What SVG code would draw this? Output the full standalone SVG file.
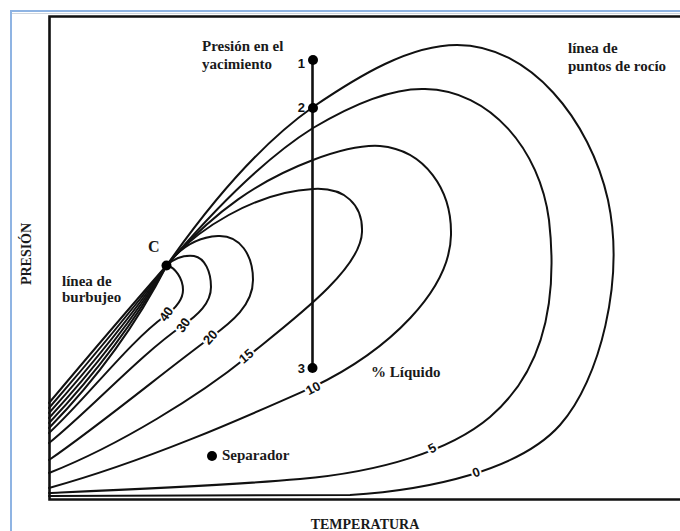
<svg xmlns="http://www.w3.org/2000/svg" width="680" height="531" viewBox="0 0 680 531">
<style>
.curve{fill:none;stroke:#111;stroke-width:2;stroke-linecap:round;stroke-linejoin:round}
.lbl{font-family:"Liberation Serif","Times New Roman",serif;font-weight:bold;font-size:15px;fill:#1a1a1a}
.num{font-family:"Liberation Sans",Arial,sans-serif;font-weight:bold;font-size:13px;fill:#111}
.cl{font-family:"Liberation Sans",Arial,sans-serif;font-weight:bold;font-size:13px;fill:#111;stroke:#fff;stroke-width:4;paint-order:stroke;text-anchor:middle}
.dot{fill:#000}
</style>
<rect x="0" y="0" width="680" height="531" fill="#fff"/>
<g id="frame">
<path d="M690,11 H11 V540" fill="none" stroke="#8fb4e3" stroke-width="2"/>
<path d="M690,13.5 H12" fill="none" stroke="#cfd6de" stroke-width="1"/>
<path d="M690,16.5 H49.5 V499.5 H690" fill="none" stroke="#111" stroke-width="2.6"/>
</g>
<g id="connectors">
<path class="curve" d="M167,265 Q112,328 49,403"/>
<path class="curve" d="M167,265 Q114,333 49,408"/>
<path class="curve" d="M167,265 Q116,338 49,413"/>
<path class="curve" d="M167,265 Q118,343 49,418"/>
<path class="curve" d="M167,265 Q120,348 49,423"/>
<path class="curve" d="M167,265 Q122,353 49,428"/>
<path class="curve" d="M167,265 C175,268 183,278 183,290 C183,300 176,308 165,316 C130,341 85,400 49,433"/>
<path class="curve" d="M167,265 C175,258 185,255 194,256 C205,258 211,272 211,287 C211,303 198,315 182,326 C140,355 90,410 49,443"/>
<path class="curve" d="M167,265 C180,248 198,237 218,236 C240,235 253,255 253,280 C253,305 232,322 210,338 C170,367 100,425 49,460"/>
<path class="curve" d="M167,265 C195,230 255,192 313,189 C345,187 363,205 362,232 C361,270 290,322 247,357 C200,395 120,445 49,473"/>
<path class="curve" d="M167,265 C215,210 260,180 313,160 C345,148 365,145 380,146 C425,150 452,190 451,235 C450,290 390,350 313,387 C250,415 150,460 49,488"/>
<path class="curve" d="M167,265 C212,212 262,160 313,128 C360,100 395,88 425,89 C490,90 540,150 549,220 C558,300 545,370 490,417 C450,451 380,472 300,479 C220,486 120,490 49,493"/>
<path class="curve" d="M167,265 C202,215 252,150 313,107 C360,75 410,45 457,45 C530,45 590,120 608,200 C625,280 600,380 560,425 C520,470 430,490 350,495 L49,496"/>
<path d="M312.5,60 V368" fill="none" stroke="#111" stroke-width="2.6"/>
</g>
<g id="curve-labels">
<text class="cl" transform="translate(166,314) rotate(-55)" dy="0.36em">40</text>
<text class="cl" transform="translate(183,325) rotate(-55)" dy="0.36em">30</text>
<text class="cl" transform="translate(210,337) rotate(-48)" dy="0.36em">20</text>
<text class="cl" transform="translate(246,356) rotate(-40)" dy="0.36em">15</text>
<text class="cl" transform="translate(313,388) rotate(-28)" dy="0.36em">10</text>
<text class="cl" transform="translate(432,448) rotate(-28)" dy="0.36em">5</text>
<text class="cl" transform="translate(476,472) rotate(-20)" dy="0.36em">0</text>
</g>
<g id="node-C">
<circle class="dot" cx="166.5" cy="265.5" r="5"/>
<text class="lbl" x="148" y="252" style="font-size:16px">C</text>
</g>
<g id="node-1">
<circle class="dot" cx="313" cy="60" r="5"/>
<text class="num" x="305" y="68" text-anchor="end">1</text>
</g>
<g id="node-2">
<circle class="dot" cx="313" cy="108" r="5"/>
<text class="num" x="305" y="112" text-anchor="end">2</text>
</g>
<g id="node-3">
<circle class="dot" cx="312.5" cy="368" r="5"/>
<text class="num" x="305" y="373" text-anchor="end">3</text>
</g>
<g id="node-separador">
<circle class="dot" cx="212" cy="456" r="5"/>
<text class="lbl" x="222" y="460">Separador</text>
</g>
<g id="label-presion-yacimiento">
<text class="lbl" x="202" y="51">Presión en el</text>
<text class="lbl" x="202" y="69">yacimiento</text>
</g>
<g id="label-rocio">
<text class="lbl" x="568" y="53">línea de</text>
<text class="lbl" x="568" y="71">puntos de rocío</text>
</g>
<g id="label-burbujeo">
<text class="lbl" x="62" y="286">línea de</text>
<text class="lbl" x="62" y="302">burbujeo</text>
</g>
<g id="label-liquido">
<text class="lbl" x="371" y="377">% Líquido</text>
</g>
<g id="axes-labels">
<text class="lbl" x="365" y="529" text-anchor="middle" style="font-size:14px">TEMPERATURA</text>
<text class="lbl" transform="translate(31,254) rotate(-90)" text-anchor="middle" style="font-size:14px">PRESIÓN</text>
</g>
</svg>
